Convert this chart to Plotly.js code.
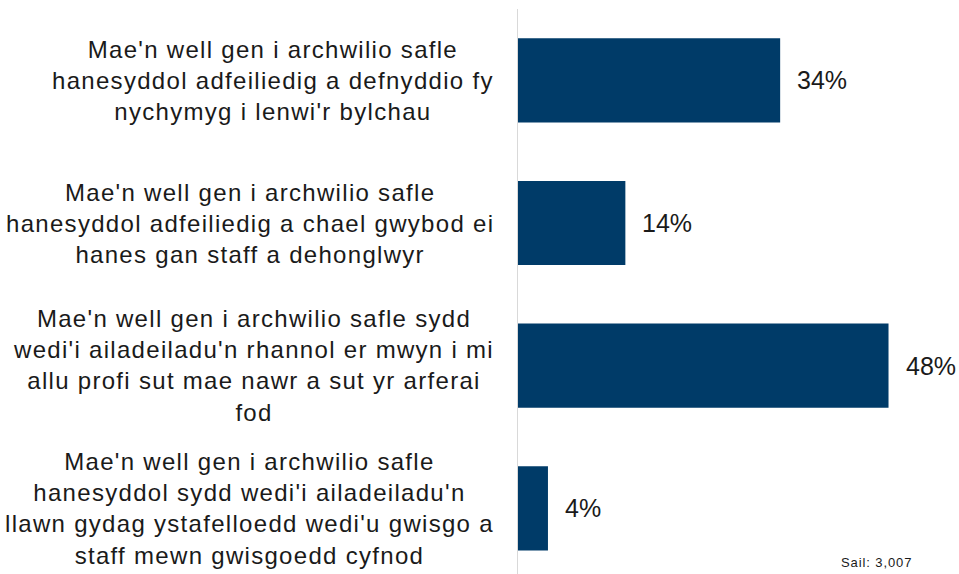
<!DOCTYPE html>
<html>
<head>
<meta charset="utf-8">
<script src="https://cdn.plot.ly/plotly-3.0.1.min.js"></script>
<style>
html,body{margin:0;padding:0;background:#fff;}
#chart{width:959px;height:574px;}
text.annotation-text[style*="font-size: 24px"]{letter-spacing:1.3px;}
text.annotation-text[style*="font-size: 13px"]{letter-spacing:0.9px;}
</style>
</head>
<body>
<div id="chart"></div>
<script>
const categories = [
  "Mae'n well gen i archwilio safle<br>hanesyddol adfeiliedig a defnyddio fy<br>nychymyg i lenwi'r bylchau",
  "Mae'n well gen i archwilio safle<br>hanesyddol adfeiliedig a chael gwybod ei<br>hanes gan staff a dehonglwyr",
  "Mae'n well gen i archwilio safle sydd<br>wedi'i ailadeiladu'n rhannol er mwyn i mi<br>allu profi sut mae nawr a sut yr arferai<br>fod",
  "Mae'n well gen i archwilio safle<br>hanesyddol sydd wedi'i ailadeiladu'n<br>llawn gydag ystafelloedd wedi'u gwisgo a<br>staff mewn gwisgoedd cyfnod"
];
const values = [34, 14, 48, 4];
const valueLabels = ["34%", "14%", "48%", "4%"];
const baseNote = "Sail: 3,007";

const pos = categories.map((c, i) => i);
const font = "Arial, 'Liberation Sans', sans-serif";

const annotations = [];
categories.forEach((c, i) => {
  annotations.push({
    x: 0, xref: 'x', y: pos[i], yref: 'y',
    text: c, showarrow: false, xanchor: 'right', yanchor: 'middle',
    align: 'center', xshift: -21,
    font: {family: font, size: 24, color: '#1a1a1a'}
  });
  annotations.push({
    x: values[i], xref: 'x', y: pos[i], yref: 'y',
    text: valueLabels[i], showarrow: false, xanchor: 'left', yanchor: 'middle',
    xshift: 15,
    font: {family: font, size: 25, color: '#1a1a1a'}
  });
});
annotations.push({
  x: 1, xref: 'paper', y: 0, yref: 'paper', text: baseNote, showarrow: false,
  xanchor: 'right', yanchor: 'bottom', xshift: 10, yshift: 2,
  font: {family: font, size: 13, color: '#1a1a1a'}
});

Plotly.newPlot('chart', [{
  type: 'bar', orientation: 'h',
  x: values, y: pos,
  width: 0.59,
  marker: {color: '#003B68', line: {width: 0}},
  hoverinfo: 'none'
}], {
  width: 959, height: 574,
  margin: {l: 517, r: 54.5, t: 9, b: 0},
  paper_bgcolor: '#fff', plot_bgcolor: '#fff',
  showlegend: false,
  xaxis: {range: [0, 50], visible: false, fixedrange: true},
  yaxis: {range: [3.46, -0.5], showticklabels: false, showgrid: false, zeroline: false,
          showline: false, ticks: '', fixedrange: true},
  shapes: [{type: 'line', xref: 'x', yref: 'paper', x0: 0, x1: 0, y0: 0, y1: 1,
            line: {color: '#d9d9d9', width: 2}}],
  annotations: annotations
}, {displayModeBar: false, staticPlot: true});
</script>
</body>
</html>
